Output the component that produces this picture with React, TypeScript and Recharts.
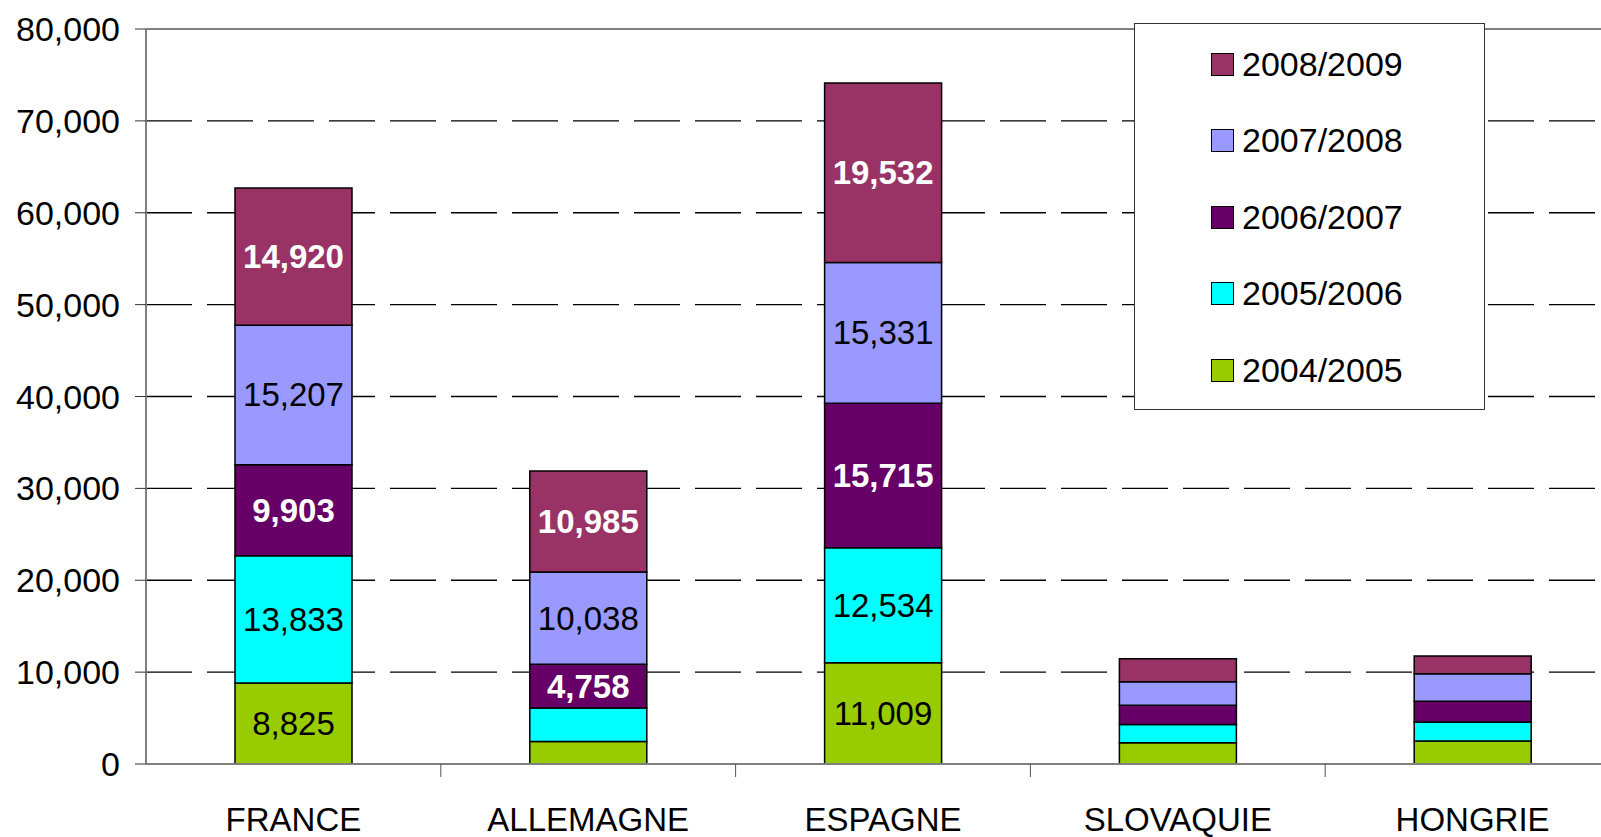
import React from 'react';
import { BarChart, Bar, XAxis, YAxis, CartesianGrid, Legend, LabelList, ReferenceLine } from 'recharts';

const categories = ['FRANCE', 'ALLEMAGNE', 'ESPAGNE', 'SLOVAQUIE', 'HONGRIE'];
const s0405 = [8825, 2450, 11009, 2300, 2500];
const s0506 = [13833, 3650, 12534, 2000, 2070];
const s0607 = [9903, 4758, 15715, 2100, 2250];
const s0708 = [15207, 10038, 15331, 2550, 3010];
const s0809 = [14920, 10985, 19532, 2500, 1920];
const yTicks = [0, 10000, 20000, 30000, 40000, 50000, 60000, 70000, 80000];
const gridValues = [10000, 20000, 30000, 40000, 50000, 60000, 70000];

const FONT = '"Liberation Sans", Arial, sans-serif';
const BAND = 294.8;

const series = [
  { key: '2004/2005', values: s0405, color: '#99CC00', labelColor: '#000', bold: false },
  { key: '2005/2006', values: s0506, color: '#00FFFF', labelColor: '#000', bold: false },
  { key: '2006/2007', values: s0607, color: '#660066', labelColor: '#fff', bold: true },
  { key: '2007/2008', values: s0708, color: '#9999FF', labelColor: '#000', bold: false },
  { key: '2008/2009', values: s0809, color: '#993366', labelColor: '#fff', bold: true },
];

const data = categories.map((name, i) => {
  const row: any = { name };
  series.forEach(s => { row[s.key] = s.values[i]; });
  return row;
});

const fmt = (v: number) => v.toLocaleString('en-US');

const makeLabel = (color: string, bold: boolean) => (props: any) => {
  const { x, y, width, height, value } = props;
  if (value < 4500) return null;
  return (
    <text
      x={x + width / 2}
      y={y + height / 2}
      textAnchor="middle"
      dominantBaseline="central"
      fill={color}
      fontFamily={FONT}
      fontSize={33}
      fontWeight={bold ? 'bold' : 'normal'}
    >
      {fmt(value)}
    </text>
  );
};

// category tick: label centred, tick mark on the boundary between categories
const CategoryTick = (props: any) => {
  const { x, y, payload, index } = props;
  const axisY = y - 44;
  return (
    <g>
      {index < categories.length - 1 && (
        <line x1={x + BAND / 2} x2={x + BAND / 2} y1={axisY} y2={axisY + 13} stroke="#555" strokeWidth={1} />
      )}
      <text x={x} y={y} dy="0.71em" textAnchor="middle" fontFamily={FONT} fontSize={33} fill="#000">
        {payload.value}
      </text>
    </g>
  );
};

const renderLegend = () => {
  const items = [...series].reverse();
  return (
    <div
      style={{
        width: 351,
        height: 387,
        border: '1.5px solid #333',
        background: '#fff',
        boxSizing: 'border-box',
        fontFamily: FONT,
        fontSize: 34,
        paddingTop: 2,
      }}
    >
      {items.map(s => (
        <div key={s.key} style={{ display: 'flex', alignItems: 'center', height: 76.5, paddingLeft: 76 }}>
          <div style={{ width: 21, height: 21, background: s.color, border: '1.5px solid #000', marginRight: 8 }} />
          <span style={{ color: '#000' }}>{s.key}</span>
        </div>
      ))}
    </div>
  );
};

export default function App() {
  return (
    <div style={{ position: 'fixed', left: 0, top: 0, width: 1601, height: 837, overflow: 'hidden', background: '#fff' }}>
      <BarChart width={1640} height={837} data={data} margin={{ top: 29, right: 20, bottom: 0, left: 0 }}>
        <CartesianGrid
          vertical={false}
          horizontalValues={gridValues}
          stroke="#000"
          strokeWidth={1.3}
          strokeDasharray="46 15"
        />
        <ReferenceLine y={80000} stroke="#808080" strokeWidth={2} />
        <XAxis
          dataKey="name"
          height={73}
          tickSize={13}
          tickMargin={31}
          axisLine={{ stroke: '#808080', strokeWidth: 2 }}
          tickLine={false}
          tick={<CategoryTick />}
          interval={0}
        />
        <YAxis
          domain={[0, 80000]}
          ticks={yTicks}
          width={146}
          tickSize={11}
          tickMargin={15}
          tickFormatter={fmt}
          axisLine={{ stroke: '#808080', strokeWidth: 2 }}
          tickLine={{ stroke: '#333' }}
          tick={{ fontFamily: FONT, fontSize: 34, fill: '#000' }}
          allowDataOverflow
        />
        <Legend
          layout="vertical"
          align="center"
          verticalAlign="middle"
          content={renderLegend}
          wrapperStyle={{ left: 1134, top: 23, width: 351, height: 387 }}
        />
        {series.map(s => (
          <Bar
            key={s.key}
            dataKey={s.key}
            stackId="a"
            fill={s.color}
            stroke="#000"
            strokeWidth={1.5}
            barSize={117}
            isAnimationActive={false}
          >
            <LabelList dataKey={s.key} content={makeLabel(s.labelColor, s.bold)} />
          </Bar>
        ))}
      </BarChart>
    </div>
  );
}
